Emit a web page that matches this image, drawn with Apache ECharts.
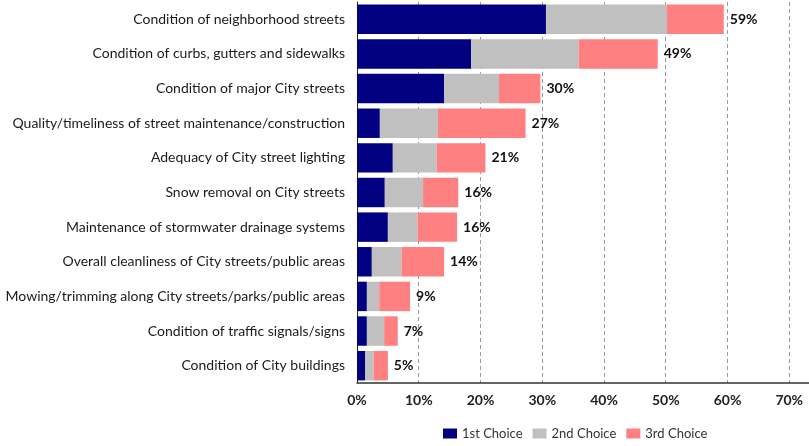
<!DOCTYPE html>
<html>
<head>
<meta charset="utf-8">
<script src="https://cdn.jsdelivr.net/npm/echarts@6/dist/echarts.min.js"></script>
<style>
  html, body { margin: 0; padding: 0; background: #fff; }
  #chart { width: 809px; height: 446px; }
</style>
</head>
<body>
<div id="chart"></div>
<script>
// Service areas, listed top to bottom
const categories = [
  'Condition of neighborhood streets',
  'Condition of curbs, gutters and sidewalks',
  'Condition of major City streets',
  'Quality/timeliness of street maintenance/construction',
  'Adequacy of City street lighting',
  'Snow removal on City streets',
  'Maintenance of stormwater drainage systems',
  'Overall cleanliness of City streets/public areas',
  'Mowing/trimming along City streets/parks/public areas',
  'Condition of traffic signals/signs',
  'Condition of City buildings'
];

// Percent of respondents selecting each item as a priority
const firstChoice  = [30.6, 18.5, 14.1, 3.7, 5.8, 4.5, 5.0, 2.4, 1.6, 1.6, 1.3];
const secondChoice = [19.6, 17.4,  8.9, 9.4, 7.1, 6.2, 4.8, 4.8, 2.0, 2.8, 1.4];
const thirdChoice  = [ 9.2, 12.8,  6.7, 14.2, 7.9, 5.7, 6.4, 6.9, 5.0, 2.2, 2.3];

// Labelled ticks along the percent axis; the axis line runs a little past the last one
const xTicks = [0, 10, 20, 30, 40, 50, 60, 70];
const xAxisEnd = 73.2;

const totals = categories.map((_, i) => firstChoice[i] + secondChoice[i] + thirdChoice[i]);

const FONT = 'Lato, "Open Sans", sans-serif';

const chart = echarts.init(document.getElementById('chart'), null, { renderer: 'canvas' });

const baseSeries = (name, data, color) => ({
  name,
  type: 'bar',
  stack: 'total',
  data,
  barCategoryGap: '15%',
  itemStyle: { color },
  emphasis: { disabled: true }
});

const third = baseSeries('3rd Choice', thirdChoice, '#ff8080');
third.label = {
  show: true,
  position: 'right',
  distance: 6,
  color: '#111',
  fontFamily: FONT,
  fontWeight: 'bold',
  fontSize: 14,
  formatter: p => Math.round(totals[p.dataIndex]) + '%'
};

chart.setOption({
  animation: false,
  backgroundColor: '#fff',
  grid: { left: 357, right: 0, top: 2, bottom: 63, containLabel: false },
  legend: {
    bottom: 1,
    left: 438,
    itemWidth: 14,
    itemHeight: 10,
    itemGap: 10,
    icon: 'rect',
    textStyle: { fontFamily: FONT, fontSize: 13, color: '#333' },
    data: ['1st Choice', '2nd Choice', '3rd Choice']
  },
  xAxis: {
    type: 'value',
    min: xTicks[0],
    max: xAxisEnd,
    interval: 10,
    axisLine: { show: true, lineStyle: { color: '#333', width: 1.5 } },
    axisTick: { show: false },
    axisLabel: {
      formatter: v => (xTicks.includes(v) ? v + '%' : ''),
      showMaxLabel: false,
      fontFamily: FONT,
      fontWeight: 'bold',
      fontSize: 14,
      color: '#222',
      margin: 10
    },
    splitLine: {
      show: true,
      showMinLine: false,
      showMaxLine: false,
      lineStyle: { color: '#999', type: [4, 3], width: 1 }
    }
  },
  yAxis: {
    type: 'category',
    inverse: true,
    data: categories,
    axisLine: { show: true, lineStyle: { color: '#222', width: 1 } },
    axisTick: { show: false },
    axisLabel: {
      fontFamily: FONT,
      fontSize: 14,
      color: '#1a1a1a',
      margin: 12
    }
  },
  series: [
    baseSeries('1st Choice', firstChoice, '#000080'),
    baseSeries('2nd Choice', secondChoice, '#c0c0c0'),
    third
  ]
});
</script>
</body>
</html>
